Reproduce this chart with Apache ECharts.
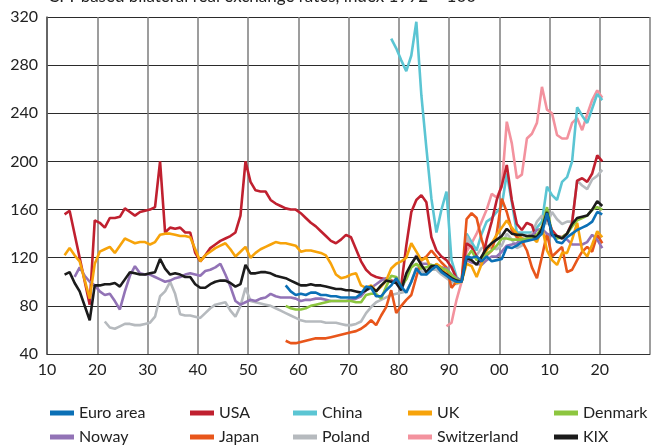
<!DOCTYPE html>
<html>
<head>
<meta charset="utf-8">
<script src="https://cdn.jsdelivr.net/npm/echarts@6/dist/echarts.min.js"></script>
<style>
  html, body { margin: 0; padding: 0; background: #fff; }
  #main { width: 653px; height: 447px; }
</style>
</head>
<body>
<div id="main"></div>
<script>
// x tick labels, 1910 ... 2030
var xTickLabels = ['10', '20', '30', '40', '50', '60', '70', '80', '90', '00', '10', '20', ''];

// annual values, each list starts at its own year
var usaStart = 1913;
var usa = [156, 159, null, null, null, 81, 151, 149, 145, 153,
  153, 154, 161, 158, 155, 158, 159, 160, 162, 200,
  141, 145, 144, 145, 141, 141, 124, 117, 122, 128,
  131, 134, 136, 138, 141, 155, 200, 183, 176, 175,
  175, 168, 165, 163, 161, 160, 160, 157, 153, 149,
  146, 142, 138, 134, 132, 135, 139, 137, 127, 117,
  110, 106, 104, 103, 102, 101, 100, 97, 130, 158,
  168, 172, 166, 137, 126, 121, 118, 112, 103, 100,
  132, 129, 121, 116, 135, 150, 168, 180, 197, 168,
  148, 143, 149, 147, 135, 145, 154, 143, 138, 137,
  140, 149, 184, 186, 183, 190, 205, 200];

var ukStart = 1913;
var uk = [122, 128, 122, 117, null, 86, 115, 125, 127, 129,
  124, 130, 136, 134, 132, 133, 133, 131, 133, 139,
  140, 140, 139, 138, 138, 137, 127, 117, 122, 125,
  128, 130, 132, 127, 121, 125, 129, 120, 124, 127,
  129, 131, 133, 132, 132, 131, 130, 125, 126, 126,
  125, 124, 122, 115, 106, 103, 104, 106, 107, 97,
  95, 97, 92, 96, 101, 111, 115, 117, 120, 132,
  125, 118, 120, 110, 115, 112, 106, 104, 99, 100,
  115, 113, 104, 115, 126, 132, 139, 145, 151, 145,
  140, 136, 135, 137, 133, 146, 126, 118, 114, 124,
  124, 135, 149, 126, 121, 131, 142, 137];

var kixStart = 1913;
var kix = [106, 108, 99, 92, null, 68, 97, 97, 98, 98,
  99, 96, 102, 108, 107, 106, 106, 107, 108, 119,
  111, 106, 107, 106, 104, 104, 98, 95, 95, 98,
  100, 101, 101, 99, 96, 98, 114, 107, 107, 108,
  108, 107, 105, 104, 103, 101, 99, 97, 97, 98,
  97, 97, 96, 95, 94, 94, 93, 93, 92, 91,
  93, 96, 92, 97, 101, 100, 99, 93, 107, 115,
  121, 114, 108, 113, 113, 109, 106, 103, 101, 100,
  120, 118, 114, 121, 128, 132, 135, 138, 144, 140,
  139, 139, 138, 138, 137, 144, 158, 139, 138, 136,
  140, 148, 153, 154, 155, 160, 167, 163];

var norwayStart = 1915;
var norway = [104, 112, 105, 100, 97, 92, 89, 90, 84, 77,
  92, 105, 113, 107, 106, 106, 104, 102, 100, 101,
  103, 104, 106, 107, 106, 105, 109, 110, 112, 115,
  106, 96, 84, 81, 83, 85, 84, 86, 87, 90,
  88, 87, 87, 87, 86, 84, 85, 85, 86, 86,
  85, 84, 84, 84, 84, 85, 86, 88, 93, 95,
  98, 101, 103, 100, 99, 93, 104, 114, 122, 115,
  115, 114, 113, 112, 111, 106, 103, 100, 118, 116,
  115, 114, 118, 121, 121, 125, 130, 131, 132, 136,
  135, 138, 143, 144, 140, 138, 137, 137, 135, 131,
  131, 131, 133, 139, 135, 128];

var polandStart = 1921;
var poland = [67, 62, 61, 63, 65, 65, 64, 64, 65, 66,
  71, 88, 92, 100, 90, 73, 72, 72, 71, 70,
  74, 78, 81, 82, 83, 76, 71, 80, 95, 84,
  83, 82, 81, 80, 78, 76, 74, 72, 70, 68,
  67, 67, 67, 67, 66, 66, 66, 65, 64, 64,
  65, 67, 74, 79, 83, 85, 87, 89, 90, 91,
  92, 100, 112, 109, 106, 110, 110, 106, 103, 100,
  98, 100, 138, 128, 122, 128, 130, 128, 127, 130,
  140, 135, 128, 130, 137, 140, 150, 155, 148, 158,
  152, 148, 150, 150, 184, 180, 177, 185, 188, 193];

var euroStart = 1957;
var euro = [97, 92, 89, 90, 89, 91, 91, 89, 89, 88,
  88, 87, 87, 87, 87, 90, 96, 95, 88, 88,
  93, 97, 103, 96, 91, 100, 111, 106, 106, 110,
  113, 108, 105, 102, 100, 100, 121, 120, 121, 117,
  121, 117, 118, 119, 129, 128, 130, 133, 134, 135,
  136, 140, 157, 140, 133, 132, 137, 140, 143, 145,
  147, 150, 158, 156];

var denmarkStart = 1957;
var denmark = [80, 78, 77, 77, 78, 80, 81, 82, 83, 84,
  84, 84, 84, 84, 83, 83, 89, 90, 90, 86,
  96, 105, 104, 96, 102, 112, 115, 111, 112, 114,
  113, 111, 110, 106, 102, 100, 120, 126, 118, 120,
  123, 126, 130, 136, 136, 135, 135, 135, 136, 137,
  139, 145, 162, 140, 136, 137, 140, 146, 151, 153,
  155, 160, 162, 160];

var japanStart = 1957;
var japan = [51, 49, 49, 50, 51, 52, 53, 53, 53, 54,
  55, 56, 57, 58, 59, 61, 64, 68, 64, 72,
  79, 93, 74, 80, 85, 89, 104, 118, 121, 126,
  121, 116, 112, 95, 100, 100, 152, 157, 153, 135,
  122, 126, 140, 169, 158, 143, 137, 134, 126, 112,
  103, 121, 140, 121, 125, 129, 108, 110, 118, 125,
  129, 125, 139, 132];

var chinaStart = 1978;
var china = [302, 294, 284, 275, 288, 316, 255, 211, 169, 141,
  160, 175, 118, 104, 100, 140, 133, 126, 140, 150,
  153, 158, 163, 190, 166, 141, 141, 141, 141, 145,
  150, 179, 172, 168, 183, 187, 200, 245, 238, 232,
  244, 256, 251];

var swissStart = 1989;
var swiss = [63, 66, 85, 100, 125, 132, 140, 150, 160, 173,
  170, 179, 233, 215, 186, 189, 219, 223, 232, 262,
  243, 240, 222, 219, 219, 232, 236, 226, 239, 251,
  259, 253];

// annual points drawn at mid-year
function toPairs(start, vals) {
  var out = [];
  for (var i = 0; i < vals.length; i++) {
    if (vals[i] !== null) out.push([start + i + 0.5, vals[i]]);
  }
  return out;
}

function mkLine(name, color, start, vals) {
  return {
    name: name,
    type: 'line',
    data: toPairs(start, vals),
    symbol: 'none',
    connectNulls: true,
    color: color,
    lineStyle: { width: 2.6, color: color },
    emphasis: { disabled: true },
    animation: false
  };
}

var font = 'Lato, "Open Sans", sans-serif';

function mkLegend(left, names) {
  return {
    data: names,
    orient: 'vertical',
    left: left,
    top: 405,
    padding: 0,
    itemGap: 8,
    itemWidth: 24,
    itemHeight: 5,
    icon: 'rect',
    textStyle: { fontFamily: font, fontSize: 16, color: '#222', lineHeight: 16 }
  };
}

var chart = echarts.init(document.getElementById('main'));

var option = {
  backgroundColor: '#fff',
  animation: false,
  title: {
    text: 'CPI-based bilateral real exchange rates, index 1992 = 100',
    left: 48,
    top: -12,
    padding: 0,
    textStyle: { fontFamily: font, fontSize: 17, fontWeight: 'normal', color: '#222' }
  },
  legend: [
    mkLegend(50, ['Euro area', 'Noway']),
    mkLegend(190, ['USA', 'Japan']),
    mkLegend(293, ['China', 'Poland']),
    mkLegend(408, ['UK', 'Switzerland']),
    mkLegend(554, ['Denmark', 'KIX'])
  ],
  grid: { left: 47, right: 0, top: 17, bottom: 93, containLabel: false },
  xAxis: {
    type: 'value',
    min: 1910,
    max: 2030,
    interval: 10,
    axisLine: { show: true, lineStyle: { color: '#333', width: 1 } },
    axisTick: { show: false },
    axisLabel: {
      margin: 8,
      fontFamily: font,
      fontSize: 16,
      color: '#222',
      formatter: function (v) { return xTickLabels[Math.round((v - 1910) / 10)]; }
    },
    splitLine: { show: true, lineStyle: { color: '#7d7d7d', width: 1.5 } }
  },
  yAxis: {
    type: 'value',
    min: 40,
    max: 320,
    interval: 40,
    axisLine: { show: true, lineStyle: { color: '#555', width: 1.5 } },
    axisTick: { show: false },
    axisLabel: { margin: 9, fontFamily: font, fontSize: 16, color: '#222' },
    splitLine: { show: true, lineStyle: { color: '#2b2b2b', width: 1 } }
  },
  series: [
    mkLine('Switzerland', '#f3929e', swissStart, swiss),
    mkLine('China', '#5bc5d3', chinaStart, china),
    mkLine('Poland', '#b6babe', polandStart, poland),
    mkLine('Japan', '#e8561b', japanStart, japan),
    mkLine('USA', '#c0202f', usaStart, usa),
    mkLine('Noway', '#9273b6', norwayStart, norway),
    mkLine('UK', '#f7a30a', ukStart, uk),
    mkLine('Denmark', '#8dc63f', denmarkStart, denmark),
    mkLine('KIX', '#1b1b1b', kixStart, kix),
    mkLine('Euro area', '#0b70b6', euroStart, euro)
  ]
};

chart.setOption(option);
</script>
</body>
</html>
